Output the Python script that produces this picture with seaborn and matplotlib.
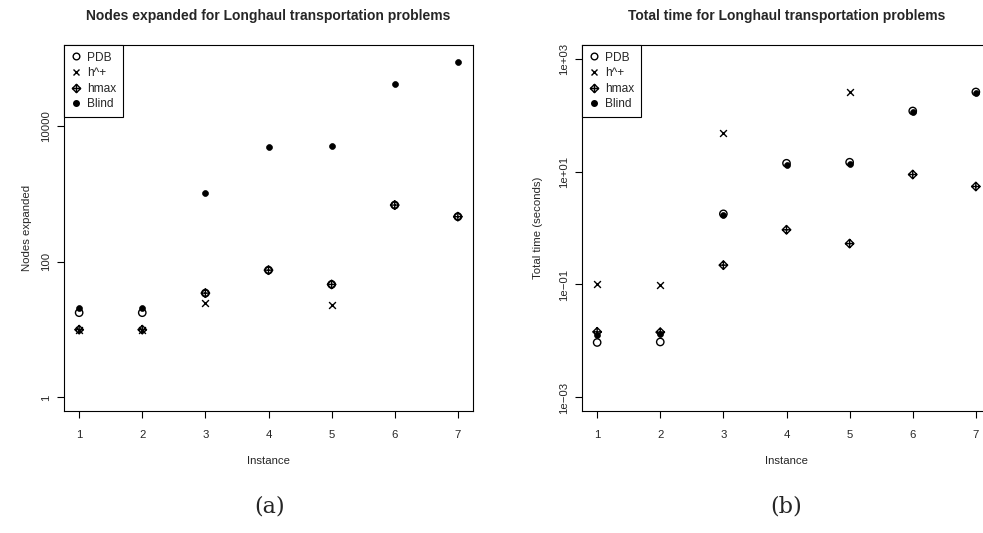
import numpy as np
import pandas as pd
import matplotlib
matplotlib.use("Agg")
import matplotlib.pyplot as plt
from matplotlib.path import Path
from matplotlib.lines import Line2D
import seaborn as sns

# ---------------- data ----------------
instances = [1, 2, 3, 4, 5, 6, 7]
series_names = ["PDB", "h^+", "hmax", "Blind"]

nodes_pdb = [17.8, 17.8, 34.6, 75.5, 46.5, 689, 465]
nodes_hplus = [10, 10, 24.7, np.nan, 22.9, np.nan, np.nan]
nodes_hmax = [10, 10, 34.6, 75.5, 46.5, 689, 465]
nodes_blind = [21, 21, 1025, 5020, 5200, 41500, 89400]

time_pdb = [0.0094, 0.0096, 1.78, 14.0, 14.6, 118, 256]
time_hplus = [0.1, 0.098, 47.6, np.nan, 256, np.nan, np.nan]
time_hmax = [0.0145, 0.0143, 0.22, 0.93, 0.53, 8.85, 5.43]
time_blind = [0.0127, 0.0132, 1.7, 13.1, 13.5, 113, 245]

nodes_ticks = [1, 100, 10000]
nodes_ticklabels = ["1", "100", "10000"]
time_ticks = [1e-3, 1e-1, 1e1, 1e3]
time_ticklabels = ["1e\u221203", "1e\u221201", "1e+01", "1e+03"]

# ---------------- style ----------------
sns.set_style("white")
plt.rcParams["font.family"] = ["Liberation Sans", "DejaVu Sans"]
plt.rcParams["axes.linewidth"] = 0.8

# diamond with plus (R pch 9)
diamond_plus = Path(
    [(0, 1), (1, 0), (0, -1), (-1, 0), (0, 1),
     (0, 1), (0, -1), (-1, 0), (1, 0)],
    [Path.MOVETO, Path.LINETO, Path.LINETO, Path.LINETO, Path.CLOSEPOLY,
     Path.MOVETO, Path.LINETO, Path.MOVETO, Path.LINETO])

W, H = 983, 533
fig = plt.figure(figsize=(W / 100, H / 100), dpi=100)

def px_axes(x0, x1, y0, y1):
    return fig.add_axes([x0 / W, 1 - y1 / H, (x1 - x0) / W, (y1 - y0) / H])

ax1 = px_axes(64, 473, 45, 411)
ax2 = px_axes(582, 991, 45, 411)

LW = 1.0
FS = 8.2

def draw(ax, pdb, hplus, hmax, blind):
    df = pd.DataFrame({"Instance": instances, "PDB": pdb, "h^+": hplus,
                       "hmax": hmax, "Blind": blind})
    sns.scatterplot(data=df, x="Instance", y="PDB", ax=ax, marker="o", s=28,
                    facecolors="none", edgecolor="black", linewidth=LW, zorder=3)
    sns.scatterplot(data=df, x="Instance", y="h^+", ax=ax, marker="x", s=24,
                    color="black", linewidth=LW, zorder=3)
    sns.scatterplot(data=df, x="Instance", y="hmax", ax=ax, marker=diamond_plus, s=38,
                    facecolors="none", edgecolor="black", linewidth=LW, zorder=3)
    sns.scatterplot(data=df, x="Instance", y="Blind", ax=ax, marker="o", s=18,
                    color="black", edgecolor="black", linewidth=0.5, zorder=4)
    ax.set_yscale("log")
    ax.set_xlim(0.76, 7.24)
    ax.set_xticks(instances)
    ax.set_xticklabels([str(i) for i in instances])
    ax.set_xlabel("Instance", fontsize=FS, labelpad=12)
    for s in ax.spines.values():
        s.set_visible(True)
        s.set_color("black")
        s.set_linewidth(0.8)
    ax.tick_params(axis="both", which="major", direction="out", length=5,
                   width=0.8, color="black", labelsize=FS, left=True, bottom=True)
    ax.tick_params(axis="x", pad=8.5)
    ax.tick_params(axis="y", pad=4)
    ax.minorticks_off()
    handles = [
        Line2D([], [], ls="none", marker="o", markersize=4.8, markerfacecolor="none",
               markeredgecolor="black", markeredgewidth=LW),
        Line2D([], [], ls="none", marker="x", markersize=4.8, color="black",
               markeredgewidth=LW),
        Line2D([], [], ls="none", marker=diamond_plus, markersize=6,
               markerfacecolor="none", markeredgecolor="black", markeredgewidth=LW),
        Line2D([], [], ls="none", marker="o", markersize=4, color="black"),
    ]
    leg = ax.legend(handles, series_names, loc="upper left", borderaxespad=0,
                    fancybox=False, framealpha=1, edgecolor="black", fontsize=8.6,
                    handlelength=0.9, handletextpad=0.5, labelspacing=0.3,
                    borderpad=0.55)
    leg.get_frame().set_linewidth(0.8)

draw(ax1, nodes_pdb, nodes_hplus, nodes_hmax, nodes_blind)
ax1.set_ylim(10 ** -0.2, 10 ** 5.2)
ax1.set_yticks(nodes_ticks)
ax1.set_yticklabels(nodes_ticklabels, rotation=90, va="center")
ax1.set_ylabel("Nodes expanded", fontsize=FS, labelpad=7)
ax1.set_title("Nodes expanded for Longhaul transportation problems",
              fontsize=10, fontweight="bold", pad=18)

draw(ax2, time_pdb, time_hplus, time_hmax, time_blind)
ax2.set_ylim(10 ** -3.24, 10 ** 3.24)
ax2.set_yticks(time_ticks)
ax2.set_yticklabels(time_ticklabels, rotation=90, va="center")
ax2.set_ylabel("Total time (seconds)", fontsize=FS, labelpad=12)
ax2.set_title("Total time for Longhaul transportation problems",
              fontsize=10, fontweight="bold", pad=18)

fig.text(270 / W, 1 - 506 / H, "(a)", ha="center", va="center",
         fontsize=16, family=["DejaVu Serif"])
fig.text(786 / W, 1 - 506 / H, "(b)", ha="center", va="center",
         fontsize=16, family=["DejaVu Serif"])

fig.savefig("out.png", dpi=100, facecolor="white")
